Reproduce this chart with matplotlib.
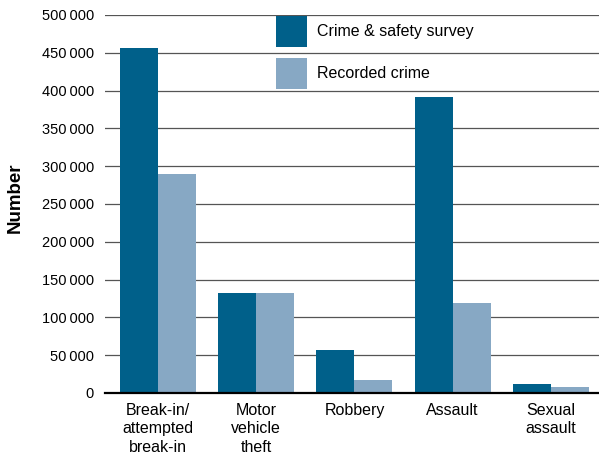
import matplotlib
matplotlib.use("Agg")
import matplotlib.pyplot as plt
import numpy as np
from matplotlib.patches import Patch
from matplotlib.ticker import FuncFormatter

plt.rcParams['font.family'] = ['Liberation Sans', 'DejaVu Sans']

categories = ["Break-in/\nattempted\nbreak-in", "Motor\nvehicle\ntheft", "Robbery", "Assault", "Sexual\nassault"]
survey = [457000, 132000, 57000, 391000, 11500]
recorded = [290000, 132000, 17000, 119000, 7500]
series_names = ["Crime & safety survey", "Recorded crime"]
yticks = [0, 50000, 100000, 150000, 200000, 250000, 300000, 350000, 400000, 450000, 500000]

dark = "#00608A"
light = "#87A8C4"

fig = plt.figure(figsize=(5.99, 4.54), dpi=100)
ax = fig.add_axes([105/599, 1-393/454, 1-105/599, (393-15)/454])

x = np.arange(len(categories))
w = 0.387
ax.bar(x - w/2, survey, w, color=dark, zorder=3)
ax.bar(x + w/2, recorded, w, color=light, zorder=3)

ax.set_xlim(-0.54, 4.49)
ax.set_ylim(0, 500000)
ax.set_yticks(yticks)
ax.yaxis.set_major_formatter(FuncFormatter(lambda v, p: f"{int(v):,}".replace(",", "\u2009")))
ax.grid(axis='y', color='#555555', linewidth=0.9, zorder=0)
ax.set_xticks(x)
ax.set_xticklabels(categories, fontsize=11.5, linespacing=1.3)
ax.tick_params(axis='y', length=0, pad=8, labelsize=10.5, colors='black')
ax.tick_params(axis='x', length=0, pad=7)
for s in ['top', 'right', 'left']:
    ax.spines[s].set_visible(False)
ax.spines['bottom'].set_linewidth(1.6)
ax.spines['bottom'].set_zorder(4)

fig.text(15/599, 1-198/454, "Number", rotation=90, fontsize=13.5, fontweight='bold',
         ha='center', va='center')

handles = [Patch(facecolor=dark), Patch(facecolor=light)]
ax.legend(handles, series_names, loc='upper left', bbox_to_anchor=(276/599, 1-16/454),
          bbox_transform=fig.transFigure, frameon=False, fontsize=11.5, borderpad=0,
          handlelength=1.95, handleheight=2.6, handletextpad=0.6, labelspacing=0.7,
          borderaxespad=0)

fig.savefig("out.png", dpi=100)
